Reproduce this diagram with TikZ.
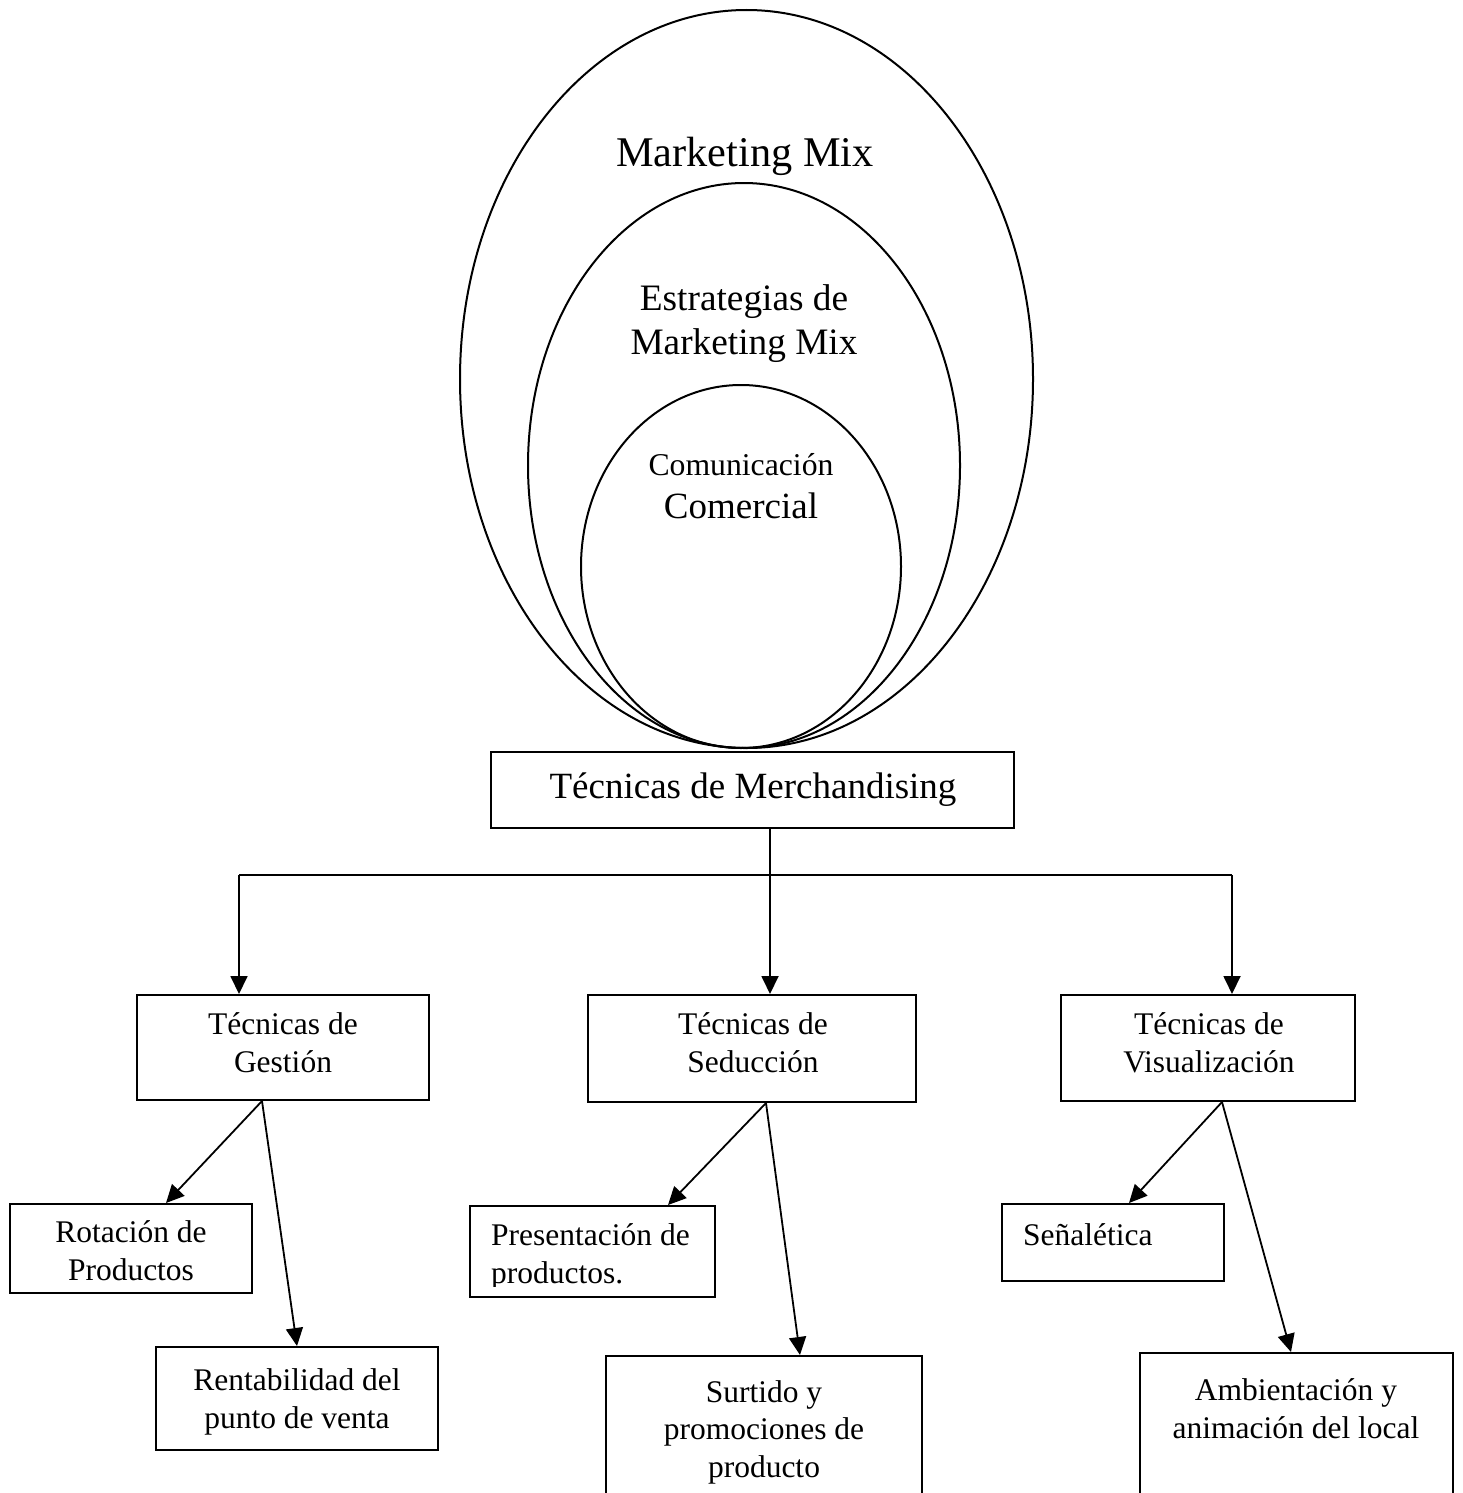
\documentclass[tikz,border=0pt]{standalone}
\usepackage{fontspec}
\setmainfont{Liberation Serif}
\usetikzlibrary{arrows.meta,shapes.geometric}
\tikzset{
  boxnode/.style={draw, line width=2pt, rectangle, inner sep=0pt},
  ell/.style={draw, line width=2pt, ellipse, inner sep=0pt},
  txt/.style={anchor=base, align=center, inner sep=0pt, font=\fontsize{31.5}{37.5}\selectfont},
  conn/.style={line width=1.8pt},
  arr/.style={line width=1.8pt, -{Triangle[length=18pt,width=17pt]}},
}
\begin{document}
\begin{tikzpicture}[x=1pt,y=-1pt]
\useasboundingbox (0,0) rectangle (1462,1493);
\clip (0,0) rectangle (1462,1493);
% ellipses
\node[ell, minimum width=573pt, minimum height=738pt] (outer) at (746.5,379) {};
\node[ell, minimum width=432pt, minimum height=565pt] (middle) at (744,465.5) {};
\node[ell, minimum width=320pt, minimum height=363pt] (inner) at (741,566.5) {};
\node[txt, font=\fontsize{42.3}{50}\selectfont] (tmm) at (745,166) {Marketing Mix};
\node[txt, font=\fontsize{37.3}{44}\selectfont] (test) at (744,310) {Estrategias de};
\node[txt, font=\fontsize{37.3}{44}\selectfont] (tmm2) at (744,354) {Marketing Mix};
\node[txt, font=\fontsize{31.7}{37}\selectfont] (tcom) at (741,475) {Comunicación};
\node[txt, font=\fontsize{37}{44}\selectfont] (tcomer) at (741,518) {Comercial};
% boxes
\node[boxnode, minimum width=523pt, minimum height=76pt] (m) at (752.5,790) {};
\node[txt, font=\fontsize{37}{44}\selectfont] (tm) at (753,798) {Técnicas de Merchandising};
\node[boxnode, minimum width=292pt, minimum height=105pt] (g) at (283,1047.5) {};
\node[txt] (tg) at (283,1072) {Técnicas de\\Gestión};
\node[boxnode, minimum width=328pt, minimum height=107pt] (s) at (752,1048.5) {};
\node[txt] (ts) at (753,1072) {Técnicas de\\Seducción};
\node[boxnode, minimum width=294pt, minimum height=106pt] (v) at (1208,1048) {};
\node[txt] (tv) at (1209,1072) {Técnicas de\\Visualización};
\node[boxnode, minimum width=242pt, minimum height=89pt] (rot) at (131,1248.5) {};
\node[txt] (trot) at (131,1280) {Rotación de\\Productos};
\node[boxnode, minimum width=282pt, minimum height=103pt] (ren) at (297,1398.5) {};
\node[txt] (tren) at (297,1428) {Rentabilidad del\\punto de venta};
\node[boxnode, minimum width=245pt, minimum height=91pt] (pre) at (592.5,1251.5) {};
\begin{scope}
\clip (470,1200) rectangle (715,1286);
\node[txt, align=left, anchor=base west] (tpre) at (491,1283) {Presentación de\\productos.};
\end{scope}
\node[boxnode, minimum width=316pt, minimum height=160pt] (sur) at (764,1436) {};
\node[txt] (tsur) at (764,1477) {Surtido y\\promociones de\\producto};
\node[boxnode, minimum width=222pt, minimum height=77pt] (sen) at (1113,1242.5) {};
\node[txt, anchor=base west] (tsen) at (1023,1245) {Señalética};
\node[boxnode, minimum width=313pt, minimum height=160pt] (amb) at (1296.5,1433) {};
\node[txt] (tamb) at (1296,1438) {Ambientación y\\animación del local};
% connectors
\coordinate (jm) at (770,875);
\coordinate (jl) at (239,875);
\coordinate (jr) at (1232,875);
\draw[arr] (m.south -| jm) -- (s.north -| jm);
\draw[conn] (jl) -- (jr);
\draw[arr] (jl) -- (g.north -| jl);
\draw[arr] (jr) -- (v.north -| jr);
% second level
\coordinate (gs) at (262,0);
\coordinate (ss) at (766,0);
\coordinate (vs) at (1222,0);
\draw[arr] (g.south -| gs) -- (rot.north -| 166,0);
\draw[arr] (g.south -| gs) -- (ren.north -| 297,0);
\draw[arr] (s.south -| ss) -- (pre.north -| 668,0);
\draw[arr] (s.south -| ss) -- (sur.north -| 800,0);
\draw[arr] (v.south -| vs) -- (sen.north -| 1129,0);
\draw[arr] (v.south -| vs) -- (amb.north -| 1291,0);
\end{tikzpicture}
\end{document}
